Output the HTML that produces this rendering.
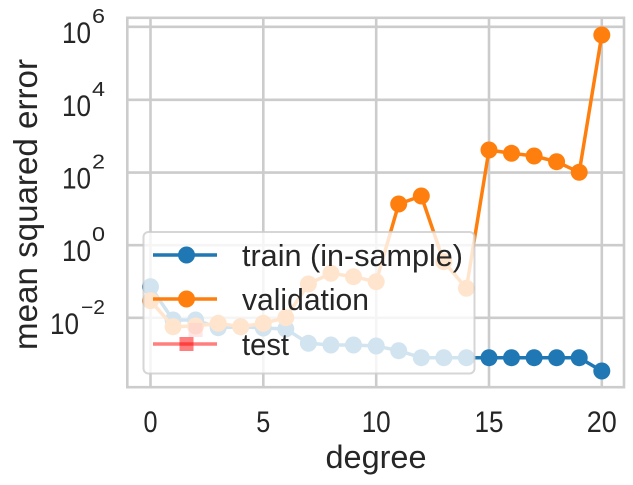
<!DOCTYPE html>
<html><head><meta charset="utf-8"><style>
html,body{margin:0;padding:0;background:#fff;}
svg{display:block;font-family:"Liberation Sans",Arial,sans-serif;}
</style></head><body>
<svg width="633" height="485" viewBox="0 0 633 485" xmlns="http://www.w3.org/2000/svg">
<rect width="633" height="485" fill="#fff"/>
<g stroke="#cccccc" stroke-width="2.6" fill="none">
<line x1="150.5" y1="18" x2="150.5" y2="387"/>
<line x1="263.3" y1="18" x2="263.3" y2="387"/>
<line x1="376.2" y1="18" x2="376.2" y2="387"/>
<line x1="489" y1="18" x2="489" y2="387"/>
<line x1="601.8" y1="18" x2="601.8" y2="387"/>
<line x1="127" y1="26.8" x2="624" y2="26.8"/>
<line x1="127" y1="99.8" x2="624" y2="99.8"/>
<line x1="127" y1="172.6" x2="624" y2="172.6"/>
<line x1="127" y1="245.2" x2="624" y2="245.2"/>
<line x1="127" y1="317.8" x2="624" y2="317.8"/>
<rect x="127.3" y="17.8" width="496.7" height="369.4"/>
</g>
<g fill="#1f77b4">
<polyline fill="none" stroke="#1f77b4" stroke-width="3.5" stroke-linejoin="round" points="150.5,286.7 173.1,320 195.6,320 218.2,327.7 240.7,326.7 263.3,328 285.8,329 308.4,343.3 330.9,345 353.5,345 376.2,346 398.7,350.7 421.3,357.7 443.8,357.7 466.4,357.7 489,357.7 511.5,357.7 534.1,357.7 556.6,357.7 579.2,357.7 601.8,371"/>
<circle cx="150.5" cy="286.7" r="8.5"/><circle cx="173.1" cy="320" r="8.5"/><circle cx="195.6" cy="320" r="8.5"/><circle cx="218.2" cy="327.7" r="8.5"/><circle cx="240.7" cy="326.7" r="8.5"/><circle cx="263.3" cy="328" r="8.5"/><circle cx="285.8" cy="329" r="8.5"/><circle cx="308.4" cy="343.3" r="8.5"/><circle cx="330.9" cy="345" r="8.5"/><circle cx="353.5" cy="345" r="8.5"/><circle cx="376.2" cy="346" r="8.5"/><circle cx="398.7" cy="350.7" r="8.5"/><circle cx="421.3" cy="357.7" r="8.5"/><circle cx="443.8" cy="357.7" r="8.5"/><circle cx="466.4" cy="357.7" r="8.5"/><circle cx="489" cy="357.7" r="8.5"/><circle cx="511.5" cy="357.7" r="8.5"/><circle cx="534.1" cy="357.7" r="8.5"/><circle cx="556.6" cy="357.7" r="8.5"/><circle cx="579.2" cy="357.7" r="8.5"/><circle cx="601.8" cy="371" r="8.5"/>
</g>
<g fill="#ff7f0e">
<polyline fill="none" stroke="#ff7f0e" stroke-width="3.5" stroke-linejoin="round" points="150.5,300.7 173.1,326.7 195.6,326 218.2,323.3 240.7,326.7 263.3,323.3 285.8,317.7 308.4,284 330.9,273.3 353.5,276.7 376.2,281.7 398.7,204 421.3,196 443.8,261.7 466.4,288.3 489,150 511.5,153.3 534.1,156 556.6,161.7 579.2,172.3 601.8,35"/>
<circle cx="150.5" cy="300.7" r="8.5"/><circle cx="173.1" cy="326.7" r="8.5"/><circle cx="195.6" cy="326" r="8.5"/><circle cx="218.2" cy="323.3" r="8.5"/><circle cx="240.7" cy="326.7" r="8.5"/><circle cx="263.3" cy="323.3" r="8.5"/><circle cx="285.8" cy="317.7" r="8.5"/><circle cx="308.4" cy="284" r="8.5"/><circle cx="330.9" cy="273.3" r="8.5"/><circle cx="353.5" cy="276.7" r="8.5"/><circle cx="376.2" cy="281.7" r="8.5"/><circle cx="398.7" cy="204" r="8.5"/><circle cx="421.3" cy="196" r="8.5"/><circle cx="443.8" cy="261.7" r="8.5"/><circle cx="466.4" cy="288.3" r="8.5"/><circle cx="489" cy="150" r="8.5"/><circle cx="511.5" cy="153.3" r="8.5"/><circle cx="534.1" cy="156" r="8.5"/><circle cx="556.6" cy="161.7" r="8.5"/><circle cx="579.2" cy="172.3" r="8.5"/><circle cx="601.8" cy="35" r="8.5"/>
</g>
<rect x="188.6" y="323" width="14" height="14" fill="#ff0000" fill-opacity="0.5"/>
<rect x="143.5" y="232" width="331" height="141.5" rx="5" fill="#ffffff" fill-opacity="0.8" stroke="#cccccc" stroke-opacity="0.8" stroke-width="2"/>
<line x1="153" y1="255" x2="217" y2="255" stroke="#1f77b4" stroke-width="3.5"/>
<circle cx="186.5" cy="255" r="8.5" fill="#1f77b4"/>
<line x1="153" y1="299" x2="217" y2="299" stroke="#ff7f0e" stroke-width="3.5"/>
<circle cx="186.5" cy="299" r="8.5" fill="#ff7f0e"/>
<line x1="153" y1="344" x2="217" y2="344" stroke="#ff0000" stroke-opacity="0.5" stroke-width="3.5"/>
<rect x="179.5" y="337" width="14" height="14" fill="#ff0000" fill-opacity="0.5"/>
<g fill="#262626" font-size="31">
<text x="242" y="266" textLength="221" lengthAdjust="spacingAndGlyphs">train (in-sample)</text>
<text x="242" y="310" textLength="127" lengthAdjust="spacingAndGlyphs">validation</text>
<text x="242" y="355" textLength="47" lengthAdjust="spacingAndGlyphs">test</text>
</g>
<g fill="#262626" font-size="30" text-anchor="middle">
<text x="150.5" y="432" textLength="14" lengthAdjust="spacingAndGlyphs">0</text>
<text x="263.3" y="432" textLength="14" lengthAdjust="spacingAndGlyphs">5</text>
<text x="376.2" y="432" textLength="29" lengthAdjust="spacingAndGlyphs">10</text>
<text x="489" y="432" textLength="29" lengthAdjust="spacingAndGlyphs">15</text>
<text x="601.8" y="432" textLength="30" lengthAdjust="spacingAndGlyphs">20</text>
<text x="376" y="468" font-size="32" textLength="101" lengthAdjust="spacingAndGlyphs">degree</text>
</g>
<g fill="#262626">
<g font-size="30">
<text x="62" y="43" textLength="29" lengthAdjust="spacingAndGlyphs">10</text>
<text x="62" y="116" textLength="29" lengthAdjust="spacingAndGlyphs">10</text>
<text x="62" y="188.5" textLength="29" lengthAdjust="spacingAndGlyphs">10</text>
<text x="62" y="261" textLength="29" lengthAdjust="spacingAndGlyphs">10</text>
<text x="50" y="334" textLength="29" lengthAdjust="spacingAndGlyphs">10</text>
</g>
<g font-size="20">
<text x="92" y="23" textLength="13" lengthAdjust="spacingAndGlyphs">6</text>
<text x="92" y="96" textLength="13" lengthAdjust="spacingAndGlyphs">4</text>
<text x="92" y="168.5" textLength="13" lengthAdjust="spacingAndGlyphs">2</text>
<text x="92" y="241" textLength="13" lengthAdjust="spacingAndGlyphs">0</text>
<text x="81" y="314" textLength="24" lengthAdjust="spacingAndGlyphs">−2</text>
</g>
<text transform="translate(37,350) rotate(-90)" font-size="33" textLength="291" lengthAdjust="spacingAndGlyphs">mean squared error</text>
</g>
</svg>
</body></html>
